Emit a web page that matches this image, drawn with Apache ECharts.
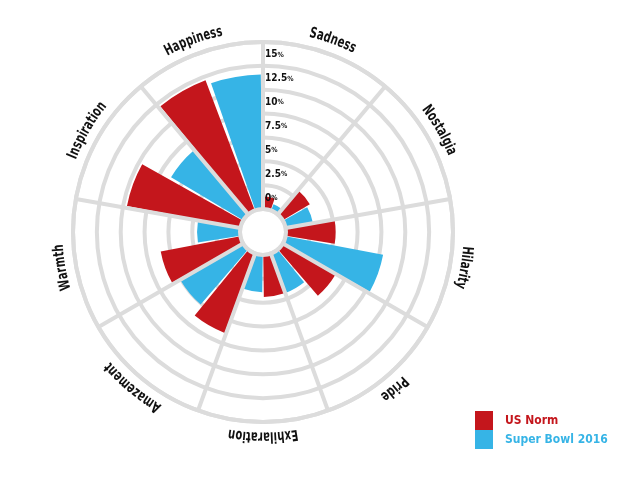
<!DOCTYPE html>
<html><head><meta charset="utf-8">
<script src="https://cdn.jsdelivr.net/npm/echarts@6/dist/echarts.min.js"></script>
<style>html,body{margin:0;padding:0;background:#fff}#c{width:640px;height:480px}</style>
</head><body><div id="c"></div>
<script>
const categories = ['Sadness','Nostalgia','Hilarity','Pride','Exhilaration','Amazement','Warmth','Inspiration','Happiness'];
const usNorm = [1.3, 3.3, 5.2, 6.4, 4.4, 8.9, 8.5, 12.1, 14.6];
const superBowl = [0.7, 2.9, 10.4, 4.4, 3.9, 7.6, 4.5, 8.8, 14.1];
const radiusTickLabels = ['0', '2.5', '5', '7.5', '10', '12.5', '15'];
const seriesNames = ['US Norm', 'Super Bowl 2016'];

const RED = '#c4161c', BLUE = '#36b4e6', GRID = '#dcdcdc';
const FONT = "'Liberation Sans Narrow','DejaVu Sans Condensed','Arial Narrow',sans-serif";
const RMAX = 17.5;
const SX = 0.74;

const ctx = document.createElement('canvas').getContext('2d');
const LABEL_FONT = 'bold 15px ' + FONT;
ctx.font = LABEL_FONT;

const chart = echarts.init(document.getElementById('c'), null, {renderer: 'canvas'});
const polarGeom = {center: [263, 232], radius: [23, 190]};

chart.setOption({
  animation: false,
  backgroundColor: '#fff',
  polar: [Object.assign({}, polarGeom), Object.assign({}, polarGeom)],
  angleAxis: [
    {polarIndex: 0, type: 'category', data: categories, startAngle: 90, clockwise: true, z: 3,
     axisLine: {show: true, lineStyle: {color: GRID, width: 4}},
     axisTick: {show: false}, axisLabel: {show: false},
     splitLine: {show: true, lineStyle: {color: GRID, width: 4}}},
    {polarIndex: 1, type: 'category', data: categories, startAngle: 90, clockwise: true,
     axisLine: {show: false}, axisTick: {show: false}, axisLabel: {show: false}, splitLine: {show: false}}
  ],
  radiusAxis: [
    {polarIndex: 0, min: 0, max: RMAX, interval: 2.5, z: 0,
     axisLine: {show: false}, axisTick: {show: false}, axisLabel: {show: false},
     splitLine: {show: true, lineStyle: {color: GRID, width: 4}}},
    {polarIndex: 1, min: 0, max: RMAX, interval: 2.5, z: 6,
     axisLine: {show: false}, axisTick: {show: false}, splitLine: {show: false},
     axisLabel: {show: true, showMaxLabel: true, margin: 4,
       formatter: function (v) {
         const i = Math.round(v / 2.5);
         return i < radiusTickLabels.length ? '{n|' + radiusTickLabels[i] + '}{p|%}' : '';
       },
       rich: {
         n: {fontFamily: FONT, fontWeight: 'bold', fontSize: 10, color: '#111'},
         p: {fontFamily: FONT, fontWeight: 'bold', fontSize: 7, color: '#111'}
       },
       align: 'left', verticalAlign: 'bottom', padding: [0, 0, 6, 6]}}
  ],
  legend: {
    orient: 'vertical', left: 470, top: 406, itemWidth: 18, itemHeight: 19, itemGap: 0,
    icon: 'rect', selectedMode: false,
    data: [
      {name: seriesNames[0], textStyle: {color: RED}},
      {name: seriesNames[1], textStyle: {color: BLUE}}
    ],
    textStyle: {fontFamily: FONT, fontWeight: 'bold', fontSize: 12, padding: [0, 0, 0, 7]}
  },
  series: [
    {type: 'bar', name: seriesNames[0], coordinateSystem: 'polar', polarIndex: 0, data: usNorm,
     itemStyle: {color: RED}, barGap: '8%', barCategoryGap: '4%', z: 2},
    {type: 'bar', name: seriesNames[1], coordinateSystem: 'polar', polarIndex: 0, data: superBowl,
     itemStyle: {color: BLUE}, barGap: '8%', barCategoryGap: '4%', z: 2},
    {type: 'custom', coordinateSystem: 'polar', polarIndex: 0, silent: true, z: 10,
     data: categories.map(function (c) { return [RMAX, c]; }),
     renderItem: function (params, api) {
       const cs = params.coordSys;
       const idx = api.value(1);
       const p = api.coord([api.value(0), idx]);
       const theta = Math.atan2(p[0] - cs.cx, -(p[1] - cs.cy));
       const R = cs.r + 7;
       const name = categories[idx];
       const chars = Array.from(name);
       const widths = chars.map(function (ch) { return ctx.measureText(ch).width * SX; });
       const W = widths.reduce(function (a, b) { return a + b; }, 0);
       let acc = -W / 2;
       const children = chars.map(function (ch, k) {
         const mid = acc + widths[k] / 2; acc += widths[k];
         const a = theta + mid / R;
         return {type: 'text', x: cs.cx + R * Math.sin(a), y: cs.cy - R * Math.cos(a), rotation: -a,
           scaleX: SX,
           style: {text: ch, font: LABEL_FONT, fill: '#111', align: 'center', verticalAlign: 'bottom'}};
       });
       return {type: 'group', children: children};
     }}
  ]
});
</script></body></html>
